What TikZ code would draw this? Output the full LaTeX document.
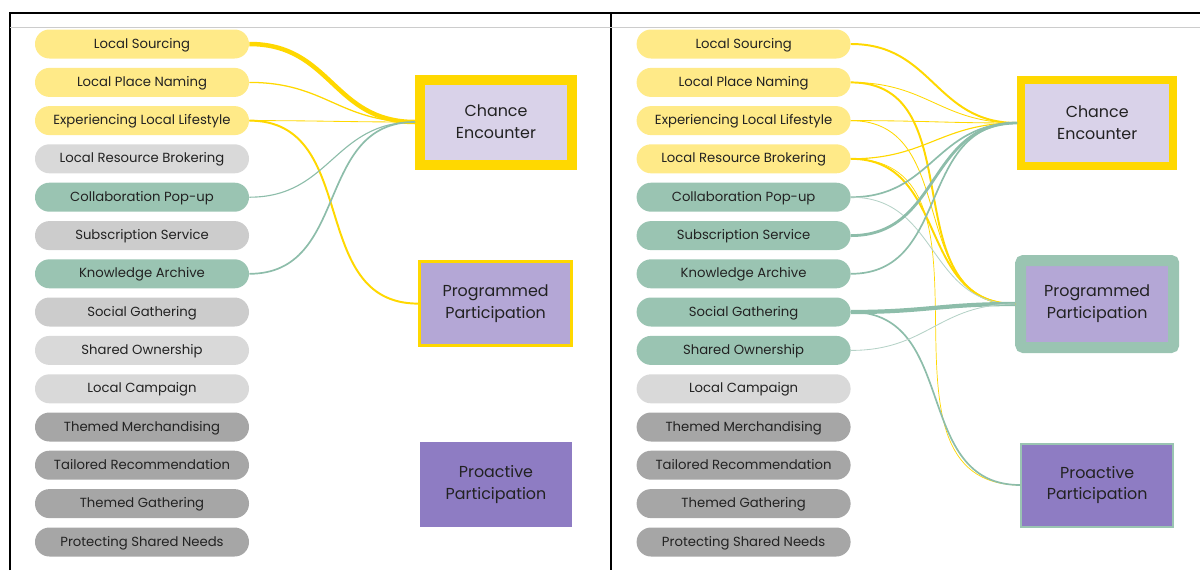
\documentclass[tikz,border=0pt]{standalone}
\usepackage{fontspec}
\setmainfont{Poppins}

\definecolor{pillyellow}{HTML}{FFEA88}
\definecolor{pilllight}{HTML}{D9D9D9}
\definecolor{pillmid}{HTML}{CCCCCC}
\definecolor{pilldark}{HTML}{A6A6A6}
\definecolor{pillgreen}{HTML}{9AC4B2}
\definecolor{linkyellow}{HTML}{FFD800}
\definecolor{linkgreen}{HTML}{8DBDAA}
\definecolor{linkpale}{HTML}{B5D2C7}
\definecolor{boxlight}{HTML}{D9D2E9}
\definecolor{boxmid}{HTML}{B4A7D6}
\definecolor{boxdark}{HTML}{8E7CC3}
\definecolor{inktext}{HTML}{222222}

\begin{document}
\begin{tikzpicture}[
    pill/.style={rounded corners=0.36cm, minimum width=5.35cm, minimum height=0.725cm, inner sep=0pt, text height=0.7em, text depth=0.12em, text=inktext, font=\fontsize{9.4}{11}\selectfont},
    ypill/.style={pill, fill=pillyellow},
    gpill/.style={pill, fill=pillgreen},
    lpill/.style={pill, fill=pilllight},
    mpill/.style={pill, fill=pillmid},
    dpill/.style={pill, fill=pilldark},
    stage/.style={align=center, inner sep=0pt, text=inktext, font=\fontsize{11.3}{15.6}\selectfont},
    sweep/.style={out=0, in=180, looseness=1.15},
    yline/.style={draw=linkyellow},
    gline/.style={draw=linkgreen},
    pline/.style={draw=linkpale}
  ]
    \useasboundingbox (0,0) rectangle (30,-14.25);
    \draw[black, line width=1pt] (0.25,-14.25) -- (0.25,-0.325) -- (30,-0.325);
    \draw[black, line width=1pt] (15.275,-0.325) -- (15.275,-14.25);
    \draw[black!20, line width=0.7pt] (0.25,-0.675) -- (30,-0.675);

    % left panel
    \node[ypill] (aSourcing) at (3.55, -1.1) {Local Sourcing};
    \node[ypill] (aNaming) at (3.55, -2.06) {Local Place Naming};
    \node[ypill] (aLifestyle) at (3.55, -3.015) {Experiencing Local Lifestyle};
    \node[lpill] (aBrokering) at (3.55, -3.97) {Local Resource Brokering};
    \node[gpill] (aPopup) at (3.55, -4.93) {Collaboration Pop-up};
    \node[mpill] (aSubscription) at (3.55, -5.89) {Subscription Service};
    \node[gpill] (aArchive) at (3.55, -6.845) {Knowledge Archive};
    \node[mpill] (aSocial) at (3.55, -7.8) {Social Gathering};
    \node[lpill] (aOwnership) at (3.55, -8.76) {Shared Ownership};
    \node[lpill] (aCampaign) at (3.55, -9.72) {Local Campaign};
    \node[dpill] (aMerch) at (3.55, -10.675) {Themed Merchandising};
    \node[dpill] (aTailored) at (3.55, -11.63) {Tailored Recommendation};
    \node[dpill] (aThemed) at (3.55, -12.59) {Themed Gathering};
    \node[dpill] (aNeeds) at (3.55, -13.55) {Protecting Shared Needs};

    \node[stage, draw=linkyellow, line width=0.25cm, fill=boxlight, minimum width=3.8cm, minimum height=2.125cm] (aChance) at (12.4, -3.05) {Chance\\Encounter};
    \node[stage, draw=linkyellow, line width=0.075cm, fill=boxmid, minimum width=3.8cm, minimum height=2.1cm] (aProgrammed) at (12.39, -7.59) {Programmed\\Participation};
    \node[stage, fill=boxdark, minimum width=3.8cm, minimum height=2.125cm] (aProactive) at (12.4, -12.11) {Proactive\\Participation};

    \draw[yline, line width=3.2pt] (aSourcing.east) to[sweep] (aChance.west);
    \draw[yline, line width=0.9pt] (aNaming.east) to[sweep] (aChance.west);
    \draw[yline, line width=0.6pt] (aLifestyle.east) to[sweep] (aChance.west);
    \draw[yline, line width=1.4pt] (aLifestyle.east) to[sweep] (aProgrammed.west);
    \draw[gline, line width=0.8pt] (aPopup.east) to[sweep] (aChance.west);
    \draw[gline, line width=1.2pt] (aArchive.east) to[sweep] (aChance.west);

    % right panel
    \node[ypill] (bSourcing) at (18.59, -1.1) {Local Sourcing};
    \node[ypill] (bNaming) at (18.59, -2.06) {Local Place Naming};
    \node[ypill] (bLifestyle) at (18.59, -3.015) {Experiencing Local Lifestyle};
    \node[ypill] (bBrokering) at (18.59, -3.97) {Local Resource Brokering};
    \node[gpill] (bPopup) at (18.59, -4.93) {Collaboration Pop-up};
    \node[gpill] (bSubscription) at (18.59, -5.89) {Subscription Service};
    \node[gpill] (bArchive) at (18.59, -6.845) {Knowledge Archive};
    \node[gpill] (bSocial) at (18.59, -7.8) {Social Gathering};
    \node[gpill] (bOwnership) at (18.59, -8.76) {Shared Ownership};
    \node[lpill] (bCampaign) at (18.59, -9.72) {Local Campaign};
    \node[dpill] (bMerch) at (18.59, -10.675) {Themed Merchandising};
    \node[dpill] (bTailored) at (18.59, -11.63) {Tailored Recommendation};
    \node[dpill] (bThemed) at (18.59, -12.59) {Themed Gathering};
    \node[dpill] (bNeeds) at (18.59, -13.55) {Protecting Shared Needs};

    \node[stage, draw=linkyellow, line width=0.2cm, fill=boxlight, minimum width=3.8cm, minimum height=2.15cm] (bChance) at (27.43, -3.075) {Chance\\Encounter};
    \node[stage, draw=pillgreen, line width=0.275cm, rounded corners=2pt, fill=boxmid, minimum width=3.825cm, minimum height=2.175cm] (bProgrammed) at (27.43, -7.6) {Programmed\\Participation};
    \node[stage, draw=pillgreen, line width=0.05cm, fill=boxdark, minimum width=3.8cm, minimum height=2.075cm] (bProactive) at (27.43, -12.125) {Proactive\\Participation};

    \draw[yline, line width=1.4pt] (bSourcing.east) to[sweep] (bChance.west);
    \draw[yline, line width=0.6pt] (bNaming.east) to[sweep] (bChance.west);
    \draw[yline, line width=1.4pt] (bNaming.east) to[sweep] (bProgrammed.west);
    \draw[yline, line width=0.6pt] (bLifestyle.east) to[sweep] (bChance.west);
    \draw[yline, line width=0.6pt] (bLifestyle.east) to[sweep] (bProgrammed.west);
    \draw[yline, line width=0.8pt] (bBrokering.east) to[sweep] (bChance.west);
    \draw[yline, line width=1.4pt] (bBrokering.east) to[sweep] (bProgrammed.west);
    \draw[yline, line width=0.5pt] (bBrokering.east) to[sweep] (bProactive.west);
    \draw[gline, line width=1.2pt] (bPopup.east) to[sweep] (bChance.west);
    \draw[pline, line width=0.6pt] (bPopup.east) to[sweep] (bProgrammed.west);
    \draw[gline, line width=2pt] (bSubscription.east) to[sweep] (bChance.west);
    \draw[gline, line width=1.2pt] (bArchive.east) to[sweep] (bChance.west);
    \draw[gline, line width=3pt] (bSocial.east) to[sweep] (bProgrammed.west);
    \draw[gline, line width=1.2pt] (bSocial.east) to[sweep] (bProactive.west);
    \draw[pline, line width=0.6pt] (bOwnership.east) to[sweep] (bProgrammed.west);
  \end{tikzpicture}
\end{document}
